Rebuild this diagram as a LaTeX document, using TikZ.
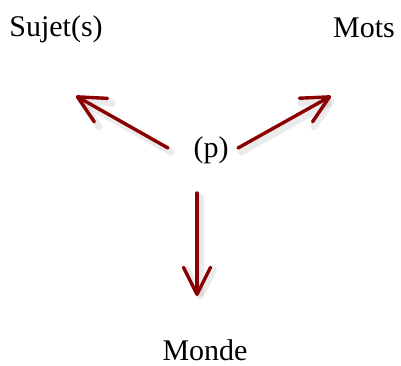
\documentclass[tikz,border=0pt]{standalone}
\usepackage{fontspec}
\setmainfont{Liberation Serif}
\usetikzlibrary{arrows.meta}
\definecolor{arrowred}{HTML}{8B0000}
\begin{document}
\begin{tikzpicture}[x=1pt,y=-1pt,
  label/.style={anchor=base,inner sep=0pt,font=\fontsize{30}{34}\selectfont},
  redarrow/.style={draw=arrowred,line width=3.4pt,line cap=round,
    -{Straight Barb[length=27pt,width=27pt,line cap=round,line join=round]}},
  shadowarrow/.style={draw=black,opacity=0.08,line width=7pt,line cap=round,
    -{Straight Barb[length=27pt,width=27pt,line cap=round,line join=round]}}]
\useasboundingbox (0,0) rectangle (401,365);
\node[label] (sujet) at (56,36) {Sujet(s)};
\node[label] (mots) at (364,37) {Mots};
\node[label] (p) at (211,157) {(p)};
\node[label,text depth=0pt] (monde) at (205,360) {Monde};
\coordinate (t1) at (168,148);
\coordinate (h1) at (76,96);
\coordinate (t2) at (238,148);
\coordinate (h2) at (331,96);
\coordinate (t3) at (197,193);
\coordinate (h3) at (197,296);
\foreach \a/\b in {t1/h1,t2/h2,t3/h3}{
  \draw[shadowarrow] ([shift={(3,4)}]\a) -- ([shift={(3,4)}]\b);
}
\draw[redarrow] (t1) -- (h1);
\draw[redarrow] (t2) -- (h2);
\draw[redarrow] (t3) -- (h3);
\end{tikzpicture}
\end{document}
